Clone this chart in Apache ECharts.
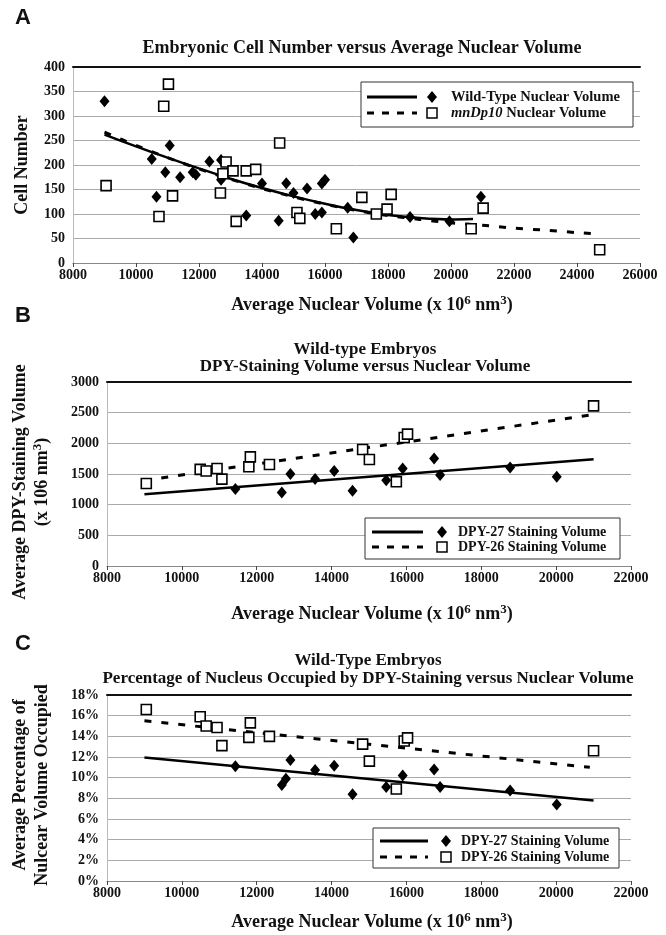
<!DOCTYPE html>
<html><head><meta charset="utf-8">
<script src="https://cdn.jsdelivr.net/npm/echarts@6/dist/echarts.min.js"></script>
<style>html,body{margin:0;padding:0;background:#fff}#c{width:666px;height:935px}</style>
</head><body><div id="c"></div>
<script>
// ---------- Panel A data ----------
const aWildX = [9000,10500,10650,10930,11070,11400,11800,11900,12330,12700,12700,13500,14000,14530,14770,15000,15430,15690,15900,15900,16000,16720,16900,18700,19950,20950];
const aWildY = [330,212,135,185,240,175,185,180,207,210,170,97,162,86,163,143,152,100,103,162,170,113,52,94,85,135];
const aDupX = [9050,10730,10880,11030,11160,12680,12760,12860,13080,13180,13500,13800,14560,15110,15200,16360,17170,17630,17970,18100,20640,21020,24720];
const aDupY = [158,95,320,365,137,143,182,206,188,85,188,191,245,103,91,70,134,100,110,140,70,112,27];
const aWildTrendX = [9000,10000,11000,12000,13000,14000,15000,16000,17000,18000,19000,20000,20700];
const aWildTrendY = [262,238,215,193,172,153,136,121,108,98,92,89,90];
const aDupTrendX = [9000,10000,11000,12000,13000,14000,15000,16000,17000,18000,19000,20000,21000,22000,23000,24000,24500];
const aDupTrendY = [267,240,215,192,171,152,135,120,107,97,89,82,77,71,67,62,60];

// ---------- Panel B data ----------
const b27X = [11430,12670,12900,13560,14070,14560,15460,15900,16740,16900,18770,20016];
const b27Y = [1254,1200,1500,1417,1547,1226,1400,1590,1754,1482,1607,1455];
const b26X = [9050,10490,10650,10940,11070,11790,11830,12340,14830,15010,15730,15940,16030,21000];
const b26Y = [1345,1575,1550,1590,1417,1617,1780,1656,1900,1737,1373,2095,2150,2610];
const b27TrendX = [9000,21000];
const b27TrendY = [1170,1740];
const b26TrendX = [9000,21000];
const b26TrendY = [1395,2470];

// ---------- Panel C data (percent) ----------
const c27X = [11430,12670,12780,12900,13560,14070,14560,15460,15900,16740,16900,18770,20016];
const c27Y = [11.1,9.3,9.9,11.7,10.75,11.15,8.4,9.1,10.2,10.8,9.1,8.75,7.4];
const c26X = [9050,10490,10650,10940,11070,11790,11830,12340,14830,15010,15730,15940,16030,21000];
const c26Y = [16.6,15.9,15.0,14.85,13.1,13.9,15.3,14.0,13.25,11.6,8.9,13.55,13.85,12.6];
const c27TrendX = [9000,21000];
const c27TrendY = [11.95,7.8];
const c26TrendX = [9000,20900];
const c26TrendY = [15.5,11.0];

// ---------- Axis ticks ----------
const aXTicks = {min:8000, max:26000, interval:2000};
const bcXTicks = {min:8000, max:22000, interval:2000};
const aYTicks = {min:0, max:400, interval:50};
const bYTicks = {min:0, max:3000, interval:500};
const cYTicks = {min:0, max:18, interval:2};

const SERIF = '"Liberation Serif","Times New Roman",serif';
const SANS = '"Liberation Sans",Arial,sans-serif';
function zip(xs, ys){ return xs.map((x,i)=>[x, ys[i]]); }

const grids = [
  {left:73, top:67, width:567, height:196},
  {left:107, top:382, width:524, height:184},
  {left:107, top:695, width:524, height:186}
];

const lblStyle = {fontFamily:SERIF, fontWeight:'bold', fontSize:14, color:'#111'};
const plain = v => String(v);

function xAxesFor(gi, t){
  return [
    {gridIndex:gi, type:'value', min:t.min, max:t.max, interval:t.interval, position:'bottom',
     axisLine:{show:true, onZero:false, lineStyle:{color:'#888', width:1}},
     axisTick:{show:true, length:4, lineStyle:{color:'#444'}},
     axisLabel:Object.assign({margin:5, formatter:plain}, lblStyle),
     splitLine:{show:false}},
    {gridIndex:gi, type:'value', min:t.min, max:t.max, interval:t.interval, position:'top',
     axisLine:{show:true, onZero:false, lineStyle:{color:'#111', width:2}},
     axisTick:{show:false}, axisLabel:{show:false}, splitLine:{show:false}}
  ];
}
function yAxisFor(gi, t, fmt){
  return {gridIndex:gi, type:'value', min:t.min, max:t.max, interval:t.interval,
    axisLine:{show:true, onZero:false, lineStyle:{color:'#bbb', width:1}},
    axisTick:{show:false},
    axisLabel:Object.assign({margin:8, formatter:fmt||plain}, lblStyle),
    splitLine:{show:true, lineStyle:{color:'#aaa', width:1}}};
}
function scatterS(xi, yi, xs, ys, kind){
  const d = kind==='d';
  return {type:'scatter', xAxisIndex:xi, yAxisIndex:yi, data:zip(xs,ys),
    symbol: d?'diamond':'rect', symbolSize: d?[10,12]:[10,10],
    itemStyle: d?{color:'#000', opacity:1}:{color:'#fff', borderColor:'#000', borderWidth:1.6, opacity:1},
    z:5, silent:true, animation:false};
}
function trendS(xi, yi, xs, ys, dashed){
  return {type:'line', xAxisIndex:xi, yAxisIndex:yi, data:zip(xs,ys),
    showSymbol:false, symbol:'none', smooth: xs.length>2?0.3:false,
    lineStyle:{color:'#000', width: dashed?3:2.5, type: dashed?[7,10]:'solid', cap:'butt'},
    z:3, silent:true, animation:false};
}

// ---------- graphic helpers ----------
function txt(x, y, text, opts){
  opts = opts||{};
  return {type:'text', x:x, y:y, rotation:opts.rot||0, silent:true, z:50,
    style:{text:text, fontFamily:opts.family||SERIF, fontWeight:opts.weight||'bold',
      fontSize:opts.size||18, fill:'#111', align:opts.align||'center', verticalAlign:'middle',
      lineHeight:opts.lh, rich:opts.rich}};
}
const supRich = {sup:{fontSize:13, fontFamily:SERIF, fontWeight:'bold', verticalAlign:'top', padding:[0,0,8,0]}};
function legendBox(x0, y0, w, h, rows, lx1, lx2, mx, tx, fs){
  const els = [{type:'rect', shape:{x:x0, y:y0, width:w, height:h}, silent:true, z:40,
    style:{fill:'#fff', stroke:'#333', lineWidth:1}}];
  rows.forEach(r=>{
    els.push({type:'line', shape:{x1:lx1, y1:r.y, x2:lx2, y2:r.y}, silent:true, z:41,
      style:{stroke:'#000', lineWidth:3, lineDash:r.dash?[7,8]:null}});
    if (r.sym==='d'){
      els.push({type:'polygon', shape:{points:[[mx,r.y-6],[mx+5,r.y],[mx,r.y+6],[mx-5,r.y]]}, silent:true, z:41, style:{fill:'#000'}});
    } else {
      els.push({type:'rect', shape:{x:mx-5, y:r.y-5, width:10, height:10}, silent:true, z:41, style:{fill:'#fff', stroke:'#000', lineWidth:1.5}});
    }
    els.push({type:'text', x:tx, y:r.y, silent:true, z:42, style:{text:r.text, rich:r.rich,
      fontFamily:SERIF, fontWeight:'bold', fontSize:fs, fill:'#111', align:'left', verticalAlign:'middle'}});
  });
  return els;
}

const xName = 'Average Nuclear Volume (x 10{sup|6} nm{sup|3})';

const graphics = [
  txt(23, 18, 'A', {family:SANS, size:22}),
  txt(23, 316, 'B', {family:SANS, size:22}),
  txt(23, 644, 'C', {family:SANS, size:22}),
  txt(362, 48, 'Embryonic Cell Number versus Average Nuclear Volume', {size:18}),
  txt(365, 358, 'Wild-type Embryos\nDPY-Staining Volume versus Nuclear Volume', {size:17, lh:17}),
  txt(368, 670, 'Wild-Type Embryos\nPercentage of Nucleus Occupied by DPY-Staining versus Nuclear Volume', {size:17, lh:18}),
  txt(372, 305, xName, {size:18, rich:supRich}),
  txt(372, 614, xName, {size:18, rich:supRich}),
  txt(372, 922, xName, {size:18, rich:supRich}),
  txt(22, 165, 'Cell Number', {size:18, rot:Math.PI/2}),
  txt(31, 482, 'Average DPY-Staining Volume\n(x 106 nm{sup|3})', {size:18, rot:Math.PI/2, lh:22, rich:supRich}),
  txt(31, 785, 'Average Percentage of\nNulcear Volume Occupied', {size:18, rot:Math.PI/2, lh:22})
].concat(
  legendBox(361, 82, 272, 45, [
    {y:97, sym:'d', dash:false, text:'Wild-Type Nuclear Volume'},
    {y:113, sym:'s', dash:true, text:'{i|mnDp10} Nuclear Volume',
     rich:{i:{fontStyle:'italic', fontWeight:'bold', fontFamily:SERIF, fontSize:14.5}}}
  ], 367, 417, 432, 451, 14.5),
  legendBox(365, 518, 255, 41, [
    {y:532, sym:'d', dash:false, text:'DPY-27 Staining Volume'},
    {y:547, sym:'s', dash:true, text:'DPY-26 Staining Volume'}
  ], 372, 423, 442, 458, 14),
  legendBox(373, 828, 246, 40, [
    {y:841, sym:'d', dash:false, text:'DPY-27 Staining Volume'},
    {y:857, sym:'s', dash:true, text:'DPY-26 Staining Volume'}
  ], 380, 428, 446, 461, 14)
);

const option = {
  backgroundColor:'#fff',
  animation:false,
  grid: grids,
  xAxis: [].concat(xAxesFor(0, aXTicks), xAxesFor(1, bcXTicks), xAxesFor(2, bcXTicks)),
  yAxis: [yAxisFor(0, aYTicks), yAxisFor(1, bYTicks), yAxisFor(2, cYTicks, '{value}%')],
  series: [
    trendS(0,0,aWildTrendX,aWildTrendY,false),
    trendS(0,0,aDupTrendX,aDupTrendY,true),
    scatterS(0,0,aWildX,aWildY,'d'),
    scatterS(0,0,aDupX,aDupY,'s'),
    trendS(2,1,b27TrendX,b27TrendY,false),
    trendS(2,1,b26TrendX,b26TrendY,true),
    scatterS(2,1,b27X,b27Y,'d'),
    scatterS(2,1,b26X,b26Y,'s'),
    trendS(4,2,c27TrendX,c27TrendY,false),
    trendS(4,2,c26TrendX,c26TrendY,true),
    scatterS(4,2,c27X,c27Y,'d'),
    scatterS(4,2,c26X,c26Y,'s')
  ],
  graphic: graphics
};
const chart = echarts.init(document.getElementById('c'));
chart.setOption(option);
</script>
</body></html>
